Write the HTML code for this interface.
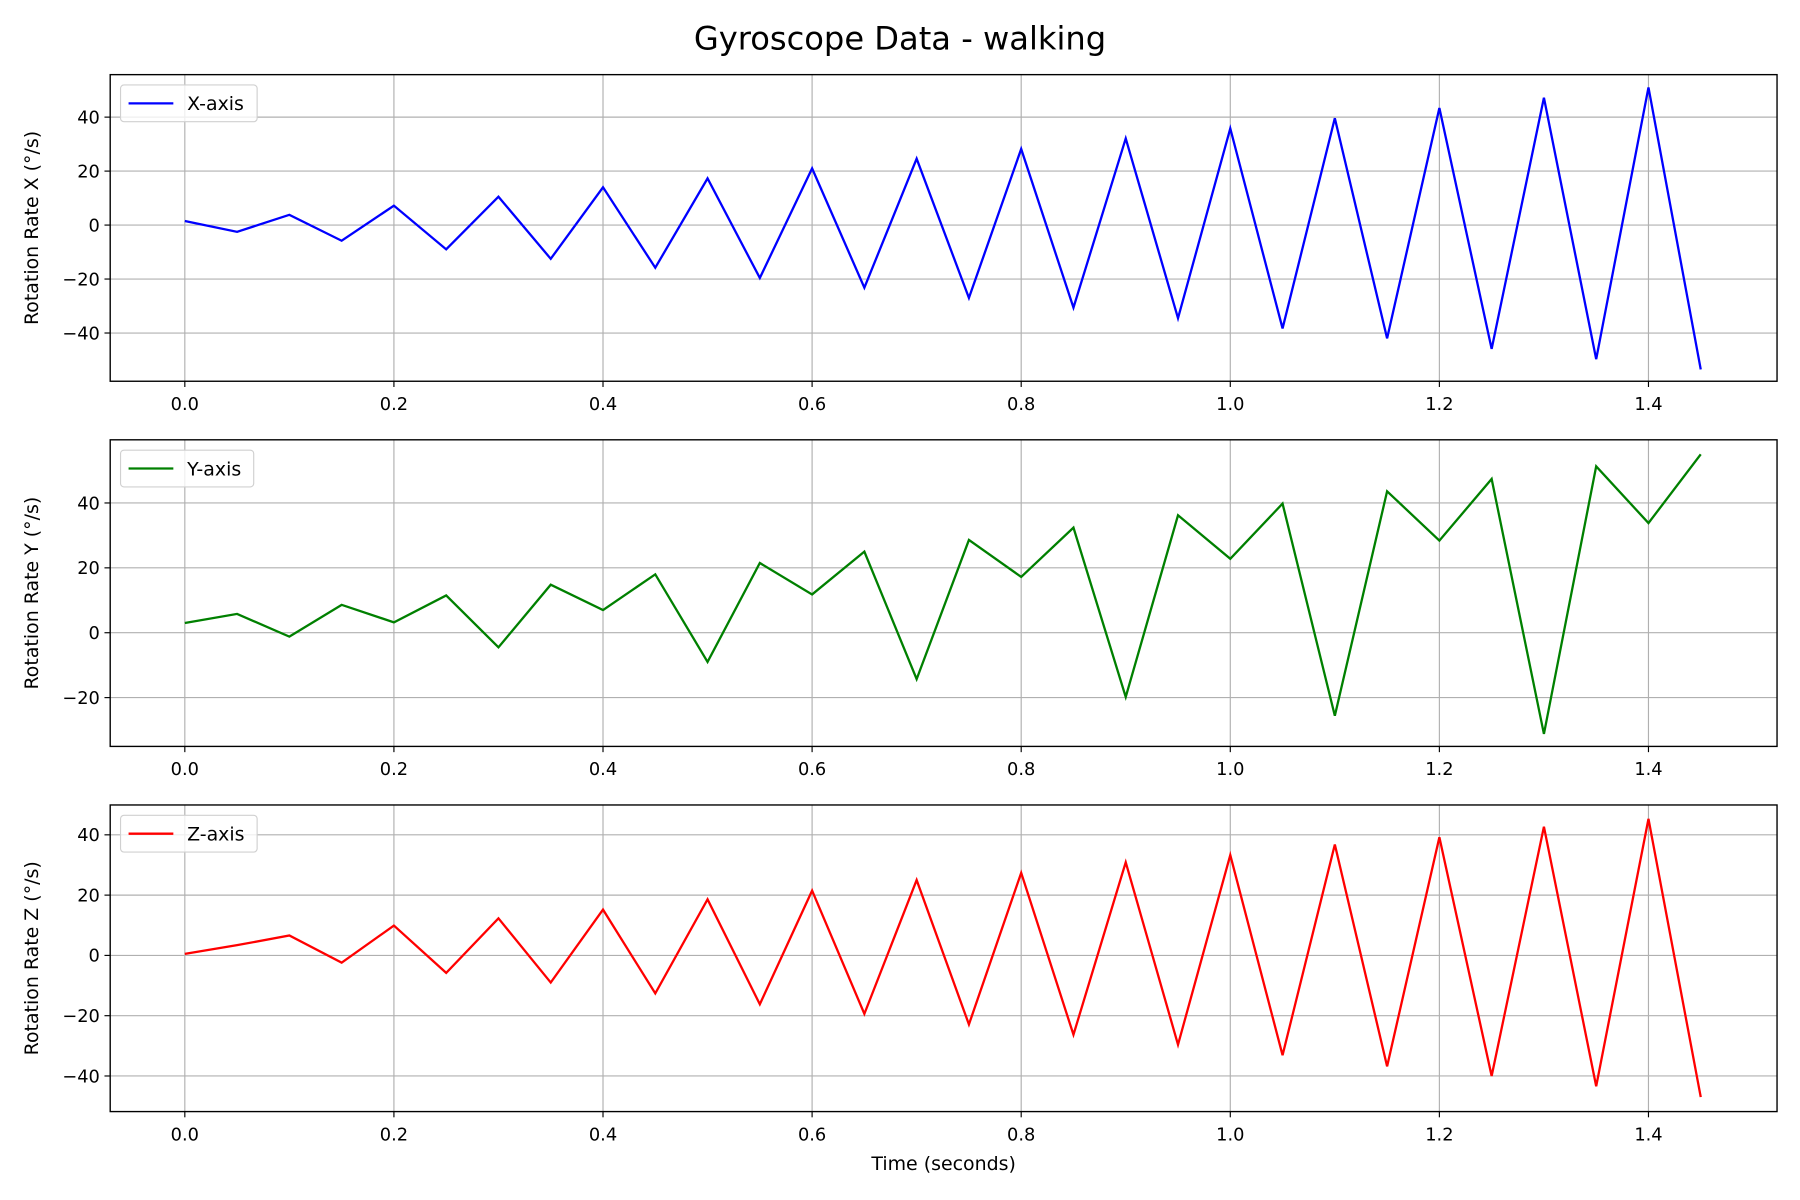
<!DOCTYPE html>
<html><head><meta charset="utf-8"><style>
html,body{margin:0;padding:0;background:#fff;}
svg{display:block;font-family:"DejaVu Sans","Liberation Sans",sans-serif;}
</style></head><body>
<svg id="chart" width="1800" height="1200" viewBox="0 0 1568 1045" preserveAspectRatio="none" xmlns="http://www.w3.org/2000/svg">
<rect width="1568" height="1045" fill="#fff"/>
<text x="784" y="43" font-size="28" text-anchor="middle" fill="#000">Gyroscope Data - walking</text>
<text x="822" y="1019" font-size="16.5" text-anchor="middle" fill="#000">Time (seconds)</text>
</svg>
<script>
const times = [0,0.05,0.1,0.15,0.2,0.25,0.3,0.35,0.4,0.45,0.5,0.55,0.6,0.65,0.7,0.75,0.8,0.85,0.9,0.95,1.0,1.05,1.1,1.15,1.2,1.25,1.3,1.35,1.4,1.45];
const xValues = [1.5,-2.5,3.8,-5.8,7.2,-9,10.5,-12.5,14,-15.8,17.3,-19.6,21,-23.2,24.6,-27,28.2,-30.6,32.1,-34.5,35.8,-38.3,39.6,-42,43.4,-45.9,47.2,-49.7,51,-53.5];
const yValues = [3,5.8,-1.2,8.6,3.2,11.5,-4.5,14.8,7,18,-9,21.5,11.8,25,-14.3,28.6,17.2,32.4,-19.8,36.2,22.8,39.8,-25.6,43.6,28.4,47.4,-31.2,51.3,33.8,55];
const zValues = [0.5,3.4,6.6,-2.4,9.9,-5.8,12.3,-9,15.2,-12.6,18.6,-16.2,21.5,-19.4,25,-22.9,27.4,-26.3,30.9,-29.6,33.3,-33.1,36.8,-36.8,39.2,-40,42.7,-43.4,45.3,-47];
const xTicks = [0,0.2,0.4,0.6,0.8,1.0,1.2,1.4];
const xTickLabels = ["0.0","0.2","0.4","0.6","0.8","1.0","1.2","1.4"];
const yTicksX = [-40,-20,0,20,40];
const yTicksY = [-20,0,20,40];
const yTicksZ = [-40,-20,0,20,40];

const NS = "http://www.w3.org/2000/svg";
const svg = document.getElementById('chart');
function mk(tag, attrs, parent){const e=document.createElementNS(NS,tag);for(const k in attrs)e.setAttribute(k,attrs[k]);(parent||svg).appendChild(e);return e;}
const L=96,R=1548;
function xs(t){return 161+t*(1436-161)/1.4;}

const panels = [
 {name:'x',top:65,bottom:332,zero:196,per:94/40,vals:xValues,ticks:yTicksX,color:'#0000ff',label:'X-axis',ylab:'Rotation Rate X (°/s)'},
 {name:'y',top:383,bottom:650,zero:551,per:113/40,vals:yValues,ticks:yTicksY,color:'#008000',label:'Y-axis',ylab:'Rotation Rate Y (°/s)'},
 {name:'z',top:701,bottom:968,zero:832,per:105/40,vals:zValues,ticks:yTicksZ,color:'#ff0000',label:'Z-axis',ylab:'Rotation Rate Z (°/s)'}
];
panels.forEach(p=>{
  const g=mk('g',{});
  
  
  const ys=v=>p.zero-v*p.per;
  xTicks.forEach((t,i)=>{
    const x=xs(t);
    const gl=mk('line',{x1:x,x2:x,y1:p.top,y2:p.bottom,stroke:'#b0b0b0','stroke-width':1},g);
    
    
    mk('line',{x1:x,x2:x,y1:p.bottom,y2:p.bottom+5,stroke:'#000','stroke-width':1},g);
    const tx=mk('text',{x:x,y:p.bottom+25,'font-size':15.5,'text-anchor':'middle',fill:'#000'},g);
    tx.textContent=xTickLabels[i];
    
    
  });
  p.ticks.forEach(v=>{
    const y=ys(v);
    const gl=mk('line',{x1:L,x2:R,y1:y,y2:y,stroke:'#b0b0b0','stroke-width':1},g);
    
    
    mk('line',{x1:L-5,x2:L,y1:y,y2:y,stroke:'#000','stroke-width':1},g);
    const tx=mk('text',{x:L-9,y:y+5.5,'font-size':15.5,'text-anchor':'end',fill:'#000'},g);
    tx.textContent=(v<0?'\u2212'+(-v):''+v);
    
    
  });
  const pts=p.vals.map((v,i)=>xs(times[i]).toFixed(2)+','+ys(v).toFixed(2)).join(' ');
  const line=mk('polyline',{points:pts,fill:'none',stroke:p.color,'stroke-width':2,'stroke-linejoin':'miter'},g);
  
  
  const fr=mk('rect',{x:L,y:p.top,width:R-L,height:p.bottom-p.top,fill:'none',stroke:'#000','stroke-width':1.2},g);
  
  
  const yl=mk('text',{x:0,y:0,'font-size':16.5,'text-anchor':'middle',fill:'#000',transform:'translate(33,'+((p.top+p.bottom)/2)+') rotate(-90)'},g);
  yl.textContent=p.ylab;
  
  
  const lg=mk('g',{},g);
  
  
  const w=p.name==='y'?116:119;
  mk('rect',{x:105,y:p.top+9,width:w,height:32,rx:3,fill:'#fff','fill-opacity':0.8,stroke:'#d0d0d0','stroke-width':1},lg);
  const ll=mk('line',{x1:112,x2:151,y1:p.top+25,y2:p.top+25,stroke:p.color,'stroke-width':2},lg);
  
  
  const lt=mk('text',{x:163,y:p.top+31,'font-size':16.5,fill:'#000'},lg);
  lt.textContent=p.label;
  
  
});
</script>
</body></html>
